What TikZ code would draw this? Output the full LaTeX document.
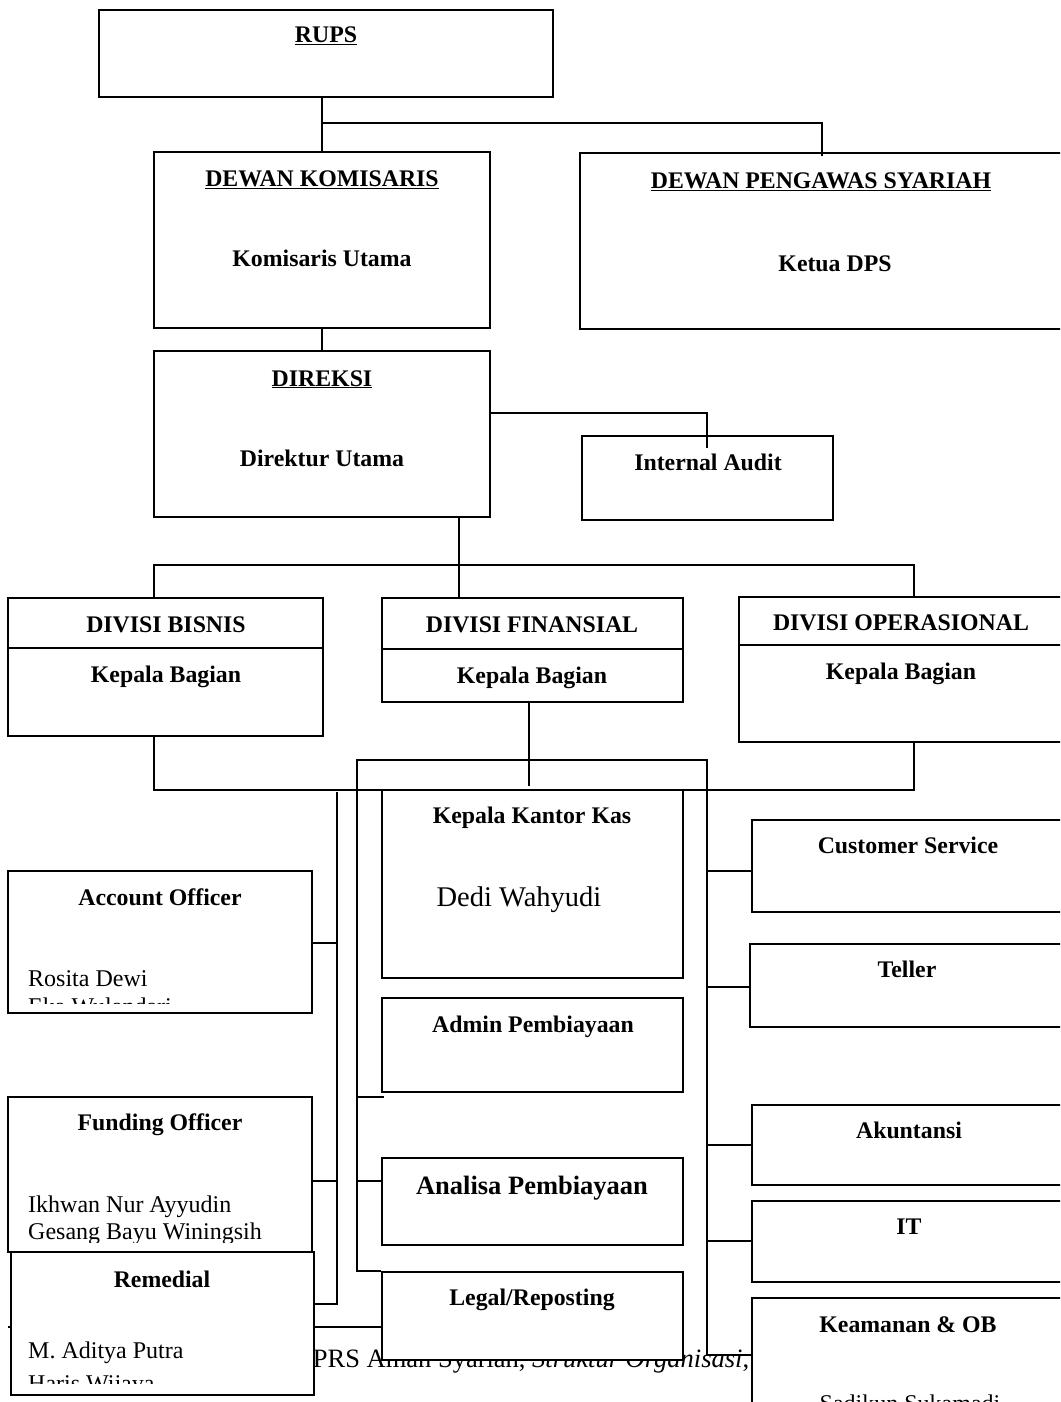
\documentclass[tikz,border=0pt]{standalone}
\usepackage{fontspec}
\setmainfont{Liberation Serif}
\usetikzlibrary{fit,calc,backgrounds}
\begin{document}
\begin{tikzpicture}[x=1pt,y=-1pt,
  box/.style={draw,fill=white,inner sep=0pt,line width=1.8pt},
  conn/.style={line width=1.8pt},
  ttl/.style={font=\bfseries\fontsize{23.8}{27.6}\selectfont,anchor=base,inner sep=0pt},
  nm/.style={font=\fontsize{24}{27.6}\selectfont,anchor=base west,inner sep=0pt},
  reg/.style={font=\fontsize{24}{27.6}\selectfont,anchor=base,inner sep=0pt}]
\useasboundingbox (0,0) rectangle (1060,1402);
\clip (0,0) rectangle (1060,1402);

% boxes
\node[box,fit={(99,10) (553,97)}] (rups) {};
\node[box,fit={(154,152) (490,328)}] (dk) {};
\node[box,fit={(580,153) (1064,329)}] (dps) {};
\node[box,fit={(154,351) (490,517)}] (dir) {};
\node[box,fit={(582,436) (833,520)}] (ia) {};
\node[box,fit={(8,598) (323,736)}] (db) {};
\node[box,fit={(382,598) (683,702)}] (df) {};
\node[box,fit={(739,597) (1064,742)}] (dop) {};
\node[box,fit={(382,790) (683,978)}] (kkk) {};
\node[box,fit={(8,871) (312,1013)}] (ao) {};
\node[box,fit={(752,820) (1064,912)}] (cs) {};
\node[box,fit={(750,944) (1064,1027)}] (tel) {};
\node[box,fit={(382,998) (683,1092)}] (adm) {};
\node[box,fit={(8,1097) (312,1252)}] (fo) {};
\node[box,fit={(752,1105) (1064,1185)}] (ak) {};
\node[box,fit={(382,1158) (683,1245)}] (an) {};
\node[box,fit={(752,1201) (1064,1282)}] (it) {};
\node[box,fit={(11,1252) (314,1395)}] (rem) {};
\node[box,fit={(382,1272) (683,1360)}] (lr) {};
\node[box,fit={(752,1298) (1064,1420)}] (keam) {};

% behind the boxes
\begin{pgfonlayer}{background}
\node[anchor=base west,inner sep=0pt,font=\fontsize{26.5}{30}\selectfont] (cap) at (295,1367) {BPRS Aman Syariah, \textit{Struktur Organisasi},};
\coordinate (rl) at (8,1327);
\draw[conn] (rl) -- (rl -| lr.west);
\end{pgfonlayer}

% division lines
\draw[conn] ($(db.north west)+(0,51)$) -- ($(db.north east)+(0,51)$);
\draw[conn] ($(df.north west)+(0,52)$) -- ($(df.north east)+(0,52)$);
\draw[conn] ($(dop.north west)+(0,49)$) -- ($(dop.north east)+(0,49)$);

% connectors
\coordinate (j1) at (322,123);
\draw[conn] (dk.north |- rups.south) -- (dk.north);
\draw[conn] (j1) -| ($(dps.north)+(0,4)$);
\draw[conn] (dk.south) -- (dir.north);
\coordinate (j2) at (490,413);
\coordinate (iaT) at (707,448);
\draw[conn] (j2) -| (iaT);
\coordinate (j3) at (459,517);
\draw[conn] (j3) -- (j3 |- df.north);
\coordinate (hL) at (154,565);
\coordinate (hR) at (914,565);
\draw[conn] (hL |- db.north) -- (hL) -- (hR) -- (hR |- dop.north);
\coordinate (bL) at (154,790);
\coordinate (bR) at (914,790);
\draw[conn] (bL |- db.south) -- (bL) -- (bR) -- (bR |- dop.south);
\coordinate (j4) at (529,702);
\draw[conn] (j4) -- ++(0,84);
% inner frame
\coordinate (fL) at (357,760);
\coordinate (fR) at (707,760);
\coordinate (fB) at (707,1355);
\draw[conn] (lr.north west) -- (fL |- lr.north) -- (fL) -- (fR) -- (fB) -- (fB -| keam.west);
\coordinate (s1) at (357,1097);
\draw[conn] (s1) -- ++(27,0);
\coordinate (s2) at (357,1181);
\draw[conn] (s2) -- (s2 -| an.west);
\coordinate (r1) at (707,871);
\coordinate (r2) at (707,987);
\coordinate (r3) at (707,1145);
\coordinate (r4) at (707,1241);
\draw[conn] (r1) -- (r1 -| cs.west);
\draw[conn] (r2) -- (r2 -| tel.west);
\draw[conn] (r3) -- (r3 -| ak.west);
\draw[conn] (r4) -- (r4 -| it.west);
% left spine
\coordinate (lT) at (337,792);
\coordinate (lB) at (337,1304);
\draw[conn] (lT) -- (lB) -- (lB -| rem.east);
\coordinate (l1) at (337,943);
\coordinate (l2) at (337,1181);
\draw[conn] (l1) -- (l1 -| ao.east);
\draw[conn] (l2) -- (l2 -| fo.east);

% titles
\node[ttl] (tRups) at (326,43) {\underline{RUPS}};
\node[ttl] (tDK) at (322,186) {\underline{DEWAN KOMISARIS}};
\node[ttl] (tKU) at (322,266) {Komisaris Utama};
\node[ttl] (tDPS) at (821,188) {\underline{DEWAN PENGAWAS SYARIAH}};
\node[ttl] (tKD) at (835,271) {Ketua DPS};
\node[ttl] (tDir) at (322,386) {\underline{DIREKSI}};
\node[ttl] (tDU) at (322,466) {Direktur Utama};
\node[ttl] (tIA) at (708,470) {Internal Audit};
\node[ttl] (tDB) at (166,632) {DIVISI BISNIS};
\node[ttl] (tKB1) at (166,682) {Kepala Bagian};
\node[ttl] (tDF) at (532,632) {DIVISI FINANSIAL};
\node[ttl] (tKB2) at (532,683) {Kepala Bagian};
\node[ttl] (tDO) at (901,630) {DIVISI OPERASIONAL};
\node[ttl] (tKB3) at (901,679) {Kepala Bagian};
\node[ttl] (tKKK) at (532,823) {Kepala Kantor Kas};
\node[reg,font=\fontsize{28.5}{32}\selectfont] (tDW) at (519,906) {Dedi Wahyudi};
\node[ttl] (tAO) at (160,905) {Account Officer};
\node[ttl] (tCS) at (908,853) {Customer Service};
\node[ttl] (tTel) at (907,977) {Teller};
\node[ttl] (tAdm) at (533,1032) {Admin Pembiayaan};
\node[ttl] (tFO) at (160,1130) {Funding Officer};
\node[ttl] (tAk) at (909,1138) {Akuntansi};
\node[ttl,font=\bfseries\fontsize{26.5}{30}\selectfont] (tAn) at (532,1194) {Analisa Pembiayaan};
\node[ttl] (tIT) at (909,1234) {IT};
\node[ttl] (tRem) at (162,1287) {Remedial};
\node[ttl] (tLR) at (532,1305) {Legal/Reposting};
\node[ttl] (tKO) at (908,1332) {Keamanan \& OB};

% names
\begin{scope}
\clip (8,871) rectangle (312,1003);
\node[nm] (nAO1) at (28,986) {Rosita Dewi};
\node[nm] (nAO2) at (28,1014) {Eka Wulandari};
\end{scope}
\begin{scope}
\clip (8,1097) rectangle (312,1242);
\node[nm] (nFO1) at (28,1212) {Ikhwan Nur Ayyudin};
\node[nm] (nFO2) at (28,1239) {Gesang Bayu Winingsih};
\end{scope}
\begin{scope}
\clip (11,1252) rectangle (314,1383);
\node[nm] (nR1) at (28,1358) {M. Aditya Putra};
\node[nm] (nR2) at (28,1391) {Haris Wijaya};
\end{scope}
\node[reg] (nK1) at (910,1411) {Sadikun Sukamadi};
\end{tikzpicture}
\end{document}
